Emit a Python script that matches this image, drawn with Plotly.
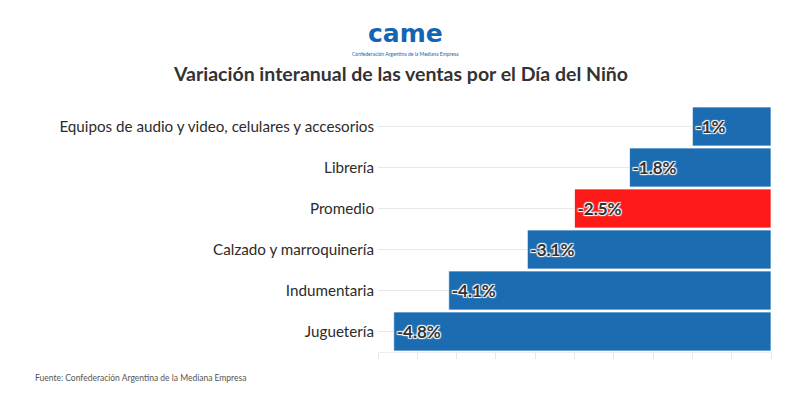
import plotly.graph_objects as go

# Datos (de arriba hacia abajo)
rubros = [
    "Equipos de audio y video, celulares y accesorios",
    "Librería",
    "Promedio",
    "Calzado y marroquinería",
    "Indumentaria",
    "Juguetería",
]
variacion = [-1.0, -1.8, -2.5, -3.1, -4.1, -4.8]
etiquetas = ["-1%", "-1.8%", "-2.5%", "-3.1%", "-4.1%", "-4.8%"]

AZUL = "#1b6cb1"
ROJO = "#ff1a1a"
colores = [ROJO if r == "Promedio" else AZUL for r in rubros]

FONT = "Lato"
sombra = ("1px 1px 1px #fff, -1px -1px 1px #fff, "
          "1px -1px 1px #fff, -1px 1px 1px #fff")

# la página tiene 8px de margen en el body
OFF = 8
W0, W1 = 378 - OFF, 771 - OFF
H0, H1 = 106 - OFF, 352 - OFF


def px(xp):
    return (xp - OFF - W0) / (W1 - W0)


def py(yp):
    return (H1 - (yp - OFF)) / (H1 - H0)


fig = go.Figure()
fig.add_trace(
    go.Bar(
        x=variacion,
        y=rubros,
        orientation="h",
        marker=dict(color=colores, line=dict(color="rgba(255,255,255,0.7)", width=1)),
        text=etiquetas,
        textposition="inside",
        insidetextanchor="end",
        textangle=0,
        textfont=dict(family=FONT, size=17, color="#333333", weight="bold", shadow=sombra),
        hoverinfo="skip",
        showlegend=False,
    )
)

fig.update_layout(
    width=800,
    height=400,
    paper_bgcolor="white",
    plot_bgcolor="white",
    margin=dict(l=W0, r=800 - W1, t=H0, b=400 - H1, autoexpand=False),
    bargap=0.05,
    uniformtext=dict(minsize=10, mode="show"),
    font=dict(family=FONT, color="#333333"),
)

fig.update_xaxes(
    range=[-5, 0],
    dtick=0.5,
    showticklabels=False,
    showgrid=False,
    zeroline=False,
    showline=True,
    linecolor="#eeeeee",
    linewidth=1,
    ticks="outside",
    ticklen=6,
    tickcolor="#e6e6e6",
    fixedrange=True,
)
fig.update_yaxes(
    autorange="reversed",
    showgrid=True,
    gridcolor="#e8e8e8",
    gridwidth=1,
    ticks="",
    ticklabelstandoff=3,
    tickfont=dict(family=FONT, size=15.2, color="#2b2b2b"),
    showline=False,
    fixedrange=True,
)

# Título
fig.add_annotation(
    text="<b>Variación interanual de las ventas por el Día del Niño</b>",
    xref="paper", yref="paper", x=px(400), y=py(73),
    xanchor="center", yanchor="middle", showarrow=False,
    font=dict(family=FONT, size=19.5, color="#333333"),
)

# Logo CAME (texto)
fig.add_annotation(
    text="<b>came</b>",
    xref="paper", yref="paper", x=px(405), y=py(33),
    xanchor="center", yanchor="middle", showarrow=False,
    font=dict(family="DejaVu Sans", size=25, color="#1464b4"),
)
fig.add_annotation(
    text="Confederación Argentina de la Mediana Empresa",
    xref="paper", yref="paper", x=px(405), y=py(54),
    xanchor="center", yanchor="middle", showarrow=False,
    font=dict(family=FONT, size=5, color="#1464b4"),
)

# Fuente
fig.add_annotation(
    text="Fuente: Confederación Argentina de la Mediana Empresa",
    xref="paper", yref="paper", x=px(33), y=py(378),
    xanchor="left", yanchor="middle", showarrow=False,
    font=dict(family=FONT, size=8.5, color="#555555"),
)

fig.write_html("out.html")
